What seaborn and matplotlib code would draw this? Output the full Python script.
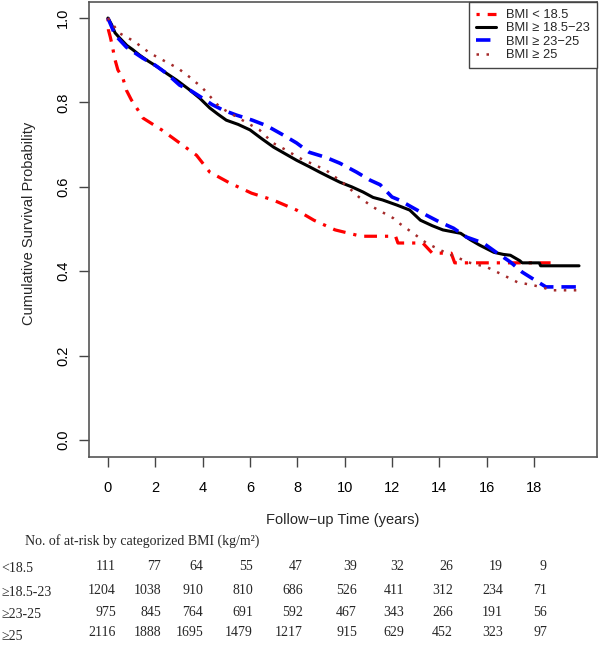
import matplotlib
matplotlib.use("Agg")
import matplotlib.pyplot as plt
import pandas as pd
import seaborn as sns

# Kaplan-Meier curves (time in years, survival prob)
t_lt185 = [0, 0.02, 0.1, 0.2, 0.28, 0.42, 0.63, 0.78, 0.99, 1.27, 1.48, 2.27, 3.03, 3.74,
           4.3, 5.15, 6.07, 6.97, 7.97, 8.7, 9.6, 10.7, 12.15, 12.25, 13.3, 13.7, 14.5, 14.65, 18.7]
s_lt185 = [1.0, 0.972, 0.955, 0.93, 0.905, 0.877, 0.858, 0.829, 0.806, 0.782, 0.763, 0.735, 0.704, 0.675,
           0.635, 0.609, 0.585, 0.569, 0.545, 0.521, 0.498, 0.483, 0.483, 0.467, 0.467, 0.443, 0.443, 0.42, 0.42]

t_185_23 = [0, 0.15, 0.3, 0.49, 0.8, 1.05, 1.34, 1.7, 2.1, 2.5, 2.9, 3.4, 3.88, 4.3, 4.65, 5.0,
            5.5, 6.0, 6.5, 7.0, 7.5, 7.97, 8.5, 8.94, 9.4, 9.8, 10.3, 10.77, 11.2, 11.6, 12.2,
            12.75, 13.2, 13.7, 14.15, 14.9, 15.3, 15.7, 16.3, 16.7, 17.0, 17.4, 17.5, 18.22, 18.28, 19.9]
s_185_23 = [1.0, 0.985, 0.965, 0.953, 0.935, 0.925, 0.912, 0.898, 0.884, 0.868, 0.853, 0.832, 0.81, 0.787, 0.772, 0.758,
            0.748, 0.735, 0.714, 0.694, 0.678, 0.663, 0.648, 0.635, 0.622, 0.611, 0.6, 0.588, 0.575, 0.569, 0.557,
            0.545, 0.521, 0.508, 0.498, 0.49, 0.475, 0.462, 0.445, 0.44, 0.438, 0.425, 0.42, 0.42, 0.413, 0.413]

t_23_25 = [0, 0.3, 0.78, 1.47, 2.0, 2.47, 3.03, 3.5, 4.0, 4.4, 4.86, 5.43, 6.1, 6.7, 7.4, 7.97,
           8.5, 9.2, 9.8, 10.5, 11.07, 11.5, 12.0, 12.3, 12.9, 13.45, 14.0, 14.6, 15.15, 15.85,
           16.4, 17.0, 17.5, 18.04, 18.5, 19.86]
s_23_25 = [1.0, 0.96, 0.931, 0.905, 0.888, 0.869, 0.841, 0.828, 0.81, 0.795, 0.782, 0.77, 0.758, 0.745, 0.723, 0.704,
           0.682, 0.67, 0.656, 0.635, 0.616, 0.605, 0.576, 0.569, 0.55, 0.533, 0.517, 0.502, 0.481, 0.467,
           0.445, 0.422, 0.398, 0.379, 0.363, 0.363]

t_ge25 = [0, 0.49, 1.1, 1.77, 2.33, 2.96, 3.5, 4.0, 4.72, 5.43, 6.4, 6.97, 7.5, 8.1, 9.2, 10.06,
          10.6, 11.2, 12.05, 12.3, 12.9, 13.45, 14.3, 15.3, 16.0, 16.7, 17.3, 17.97, 18.8, 19.8]
s_ge25 = [1.0, 0.964, 0.945, 0.917, 0.9, 0.881, 0.858, 0.834, 0.789, 0.766, 0.735, 0.704, 0.688, 0.668, 0.64, 0.604,
          0.576, 0.552, 0.526, 0.514, 0.49, 0.467, 0.443, 0.42, 0.41, 0.391, 0.374, 0.367, 0.355, 0.355]

legend_labels = ["BMI < 18.5", "BMI \u2265 18.5\u221223", "BMI \u2265 23\u221225", "BMI \u2265 25"]

# at-risk table
risk_times = [0, 2, 4, 6, 8, 10, 12, 14, 16, 18]
risk_rows = ["<18.5", "\u226518.5-23", "\u226523-25", "\u226525"]
risk_lt185 = [111, 77, 64, 55, 47, 39, 32, 26, 19, 9]
risk_185_23 = [1204, 1038, 910, 810, 686, 526, 411, 312, 234, 71]
risk_23_25 = [975, 845, 764, 691, 592, 467, 343, 266, 191, 56]
risk_ge25 = [2116, 1888, 1695, 1479, 1217, 915, 629, 452, 323, 97]

sns.set_theme(style="white")
plt.rcParams['font.family'] = ['Liberation Sans', 'DejaVu Sans']

fig = plt.figure(figsize=(6, 6.48), dpi=100)
ax = fig.add_axes([89/600, 1-457/648, 508/600, 455/648])

curves = [
    (t_lt185, s_lt185, "#FF0000", (0, (1, 2.5, 4, 2.5)), 2.3),
    (t_185_23, s_185_23, "#000000", "-", 2.2),
    (t_23_25, s_23_25, "#0000FF", (0, (4, 2.2)), 2.6),
    (t_ge25, s_ge25, "#A52A2A", (0, (1, 3)), 1.8),
]
for (t, s, c, ls, lw), lab in zip(curves, legend_labels):
    d = pd.DataFrame({"time": t, "surv": s})
    sns.lineplot(data=d, x="time", y="surv", ax=ax, color=c, linestyle=ls, linewidth=lw,
                 estimator=None, sort=False, label=lab)

ax.set_xlim(-0.8, 20.66)
ax.set_ylim(-0.04, 1.038)
ax.set_xticks(risk_times)
ax.set_yticks([0.0, 0.2, 0.4, 0.6, 0.8, 1.0])
ax.set_yticklabels(["0.0", "0.2", "0.4", "0.6", "0.8", "1.0"], rotation=90, va="center")
ax.tick_params(axis="x", bottom=True, direction="out", length=7, width=1, color="#444444",
               pad=10.5, labelsize=10.5, labelcolor="black")
ax.tick_params(axis="y", left=True, direction="out", length=7, width=1, color="#444444",
               pad=6.5, labelsize=10.5, labelcolor="black")
for sp in ax.spines.values():
    sp.set_color("#555555")
    sp.set_linewidth(1.2)

ax.set_xlabel("Follow\u2212up Time (years)", fontsize=10.5, labelpad=13)
ax.set_ylabel("Cumulative Survival Probability", fontsize=10.5)
ax.yaxis.set_label_coords(-0.105, 0.513)

leg = ax.legend(loc="upper right", bbox_to_anchor=(1, 1), borderaxespad=0, fontsize=9.3,
                frameon=True, fancybox=False, framealpha=1, edgecolor="#444444",
                handlelength=1.6, handletextpad=0.75, labelspacing=0.1, borderpad=0.55)
leg.get_frame().set_linewidth(1.0)

# number at risk table (serif, like the pasted table in the original)
serif = ['Liberation Serif', 'DejaVu Serif']
fig.text(25/600, 1-541/648, "No. of at-risk by categorized BMI (kg/m\u00b2)", family=serif,
         fontsize=10, va="center", ha="left")
col_right = [116, 161, 203, 253, 303, 357, 404, 453, 503, 547]
row_y = [566, 590, 612, 633]
for name, vals, yy in zip(risk_rows, [risk_lt185, risk_185_23, risk_23_25, risk_ge25], row_y):
    fig.text(1/600, 1-(yy+3)/648, name, family=serif, fontsize=10, va="center", ha="left")
    for v, xr in zip(vals, col_right):
        fig.text(xr/600, 1-yy/648, str(v), family=serif, fontsize=10, va="center", ha="right")

fig.savefig("out.png", dpi=100)
